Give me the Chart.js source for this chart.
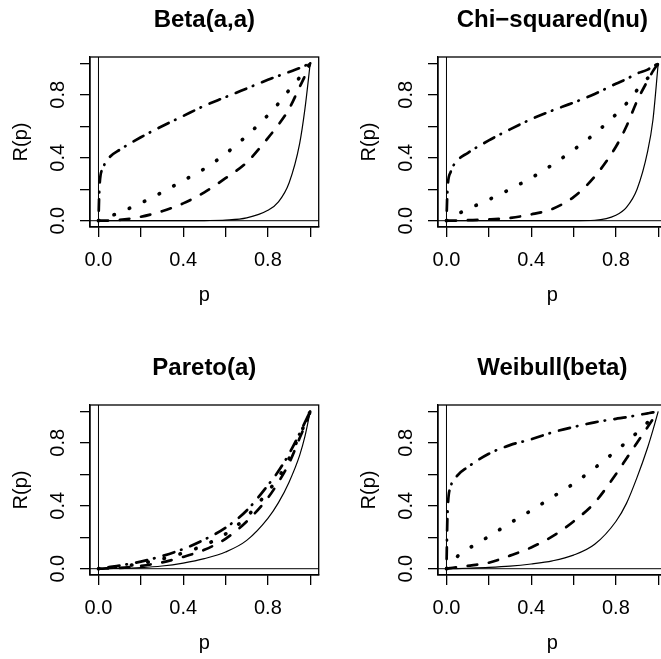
<!DOCTYPE html>
<html>
<head>
<meta charset="utf-8">
<script src="https://cdn.jsdelivr.net/npm/chart.js@4/dist/chart.umd.min.js"></script>
<style>
    html, body { margin: 0; padding: 0; background: #fff; overflow: hidden; width: 661px; height: 659px; }
    canvas { position: absolute; }
</style>
</head>
<body>
<canvas id="beta" width="330" height="330" style="left:0;top:0"></canvas>
<canvas id="chisq" width="330" height="330" style="left:348px;top:0"></canvas>
<canvas id="pareto" width="330" height="330" style="left:0;top:348px"></canvas>
<canvas id="weibull" width="330" height="330" style="left:348px;top:348px"></canvas>
<script>
// p values shared by every curve
const pGrid = [0, 0.005, 0.02, 0.05, 0.1, 0.2, 0.3, 0.4, 0.5, 0.6, 0.7, 0.8, 0.85, 0.9, 0.95, 0.975, 1];

const tickValues = [0, 0.2, 0.4, 0.6, 0.8, 1];
const tickLabels = ['0.0', '', '0.4', '', '0.8', ''];

// R(p) for the four parameter choices: solid, dashed, dotted, dot-dash
const betaSolid = [0, 0, 0, 0, 0, 0, 0, 0, 0.001, 0.004, 0.018, 0.066, 0.12, 0.24, 0.49, 0.71, 1];
const betaDashed = [0, 0, 0, 0.001, 0.005, 0.025, 0.06, 0.11, 0.18, 0.27, 0.37, 0.525, 0.61, 0.71, 0.85, 0.92, 1];
const betaDotted = [0, 0.002, 0.01, 0.026, 0.052, 0.112, 0.18, 0.255, 0.33, 0.425, 0.54, 0.67, 0.745, 0.83, 0.91, 0.955, 1];
const betaDotDash = [0, 0.22, 0.33, 0.4, 0.45, 0.53, 0.6, 0.665, 0.73, 0.785, 0.84, 0.895, 0.92, 0.945, 0.97, 0.985, 1];

const chisqSolid = [0, 0, 0, 0, 0, 0, 0, 0, 0, 0, 0.003, 0.035, 0.085, 0.2, 0.44, 0.64, 1];
const chisqDashed = [0, 0, 0, 0.001, 0.003, 0.008, 0.018, 0.04, 0.075, 0.15, 0.28, 0.47, 0.6, 0.76, 0.89, 0.95, 1];
const chisqDotted = [0, 0.003, 0.015, 0.04, 0.073, 0.134, 0.2, 0.272, 0.355, 0.45, 0.553, 0.675, 0.745, 0.83, 0.905, 0.95, 1];
const chisqDotDash = [0, 0.2, 0.31, 0.38, 0.43, 0.51, 0.58, 0.645, 0.7, 0.75, 0.805, 0.87, 0.9, 0.935, 0.96, 0.98, 1];

const paretoSolid = [0, 0, 0, 0.001, 0.002, 0.007, 0.017, 0.036, 0.064, 0.106, 0.18, 0.32, 0.42, 0.55, 0.72, 0.84, 1];
const paretoDashed = [0, 0, 0.001, 0.002, 0.005, 0.018, 0.04, 0.075, 0.12, 0.19, 0.3, 0.45, 0.55, 0.67, 0.83, 0.91, 1];
const paretoDotted = [0, 0.001, 0.003, 0.007, 0.013, 0.033, 0.062, 0.1, 0.15, 0.22, 0.33, 0.49, 0.58, 0.7, 0.85, 0.92, 1];
const paretoDotDash = [0, 0.001, 0.004, 0.01, 0.02, 0.045, 0.08, 0.125, 0.185, 0.26, 0.37, 0.53, 0.62, 0.73, 0.86, 0.93, 1];

const weibullSolid = [0, 0, 0, 0.001, 0.003, 0.008, 0.016, 0.03, 0.05, 0.086, 0.155, 0.3, 0.415, 0.58, 0.77, 0.88, 1];
const weibullDashed = [0, 0.001, 0.004, 0.01, 0.018, 0.038, 0.083, 0.135, 0.205, 0.3, 0.42, 0.6, 0.7, 0.8, 0.9, 0.95, 1];
const weibullDotted = [0, 0.01, 0.033, 0.076, 0.124, 0.205, 0.29, 0.37, 0.455, 0.54, 0.64, 0.748, 0.805, 0.865, 0.93, 0.965, 1];
const weibullDotDash = [0, 0.35, 0.52, 0.59, 0.645, 0.73, 0.785, 0.822, 0.866, 0.9, 0.93, 0.952, 0.962, 0.975, 0.987, 0.993, 1];

// lty 1..4
const lineStyles = [
    {borderWidth: 1.2, borderDash: [], borderCapStyle: 'butt'},
    {borderWidth: 2.7, borderDash: [9.6, 11.8], borderCapStyle: 'round'},
    {borderWidth: 3.6, borderDash: [0.5, 16.1], borderCapStyle: 'round'},
    {borderWidth: 2.7, borderDash: [0.5, 9.4, 11.3, 7.1], borderCapStyle: 'round'}
];

Chart.defaults.font.family = "'Liberation Sans', Arial, Helvetica, sans-serif";
Chart.defaults.color = '#000';

// plot box plus the reference lines at x = 0 and y = 0
const framePlugin = {
    id: 'frame',
    beforeDatasetsDraw(chart) {
        const {ctx, chartArea, scales} = chart;
        const x0 = scales.x.getPixelForValue(0);
        const y0 = scales.y.getPixelForValue(0);
        ctx.save();
        ctx.strokeStyle = '#000';
        ctx.lineWidth = 1;
        ctx.beginPath();
        ctx.moveTo(x0, chartArea.top);
        ctx.lineTo(x0, chartArea.bottom);
        ctx.moveTo(chartArea.left, y0);
        ctx.lineTo(chartArea.right, y0);
        ctx.stroke();
        ctx.restore();
    },
    afterDraw(chart) {
        const {ctx, chartArea} = chart;
        ctx.save();
        ctx.strokeStyle = '#000';
        ctx.lineWidth = 1.3;
        ctx.strokeRect(chartArea.left, chartArea.top, chartArea.right - chartArea.left, chartArea.bottom - chartArea.top);
        ctx.restore();
    }
};

function axisOptions(isX, label) {
    return {
        type: 'linear',
        position: isX ? 'bottom' : 'left',
        min: -0.04,
        max: 1.04,
        afterBuildTicks: axis => {
            axis.ticks = tickValues.map(v => ({value: v}));
        },
        afterFit: axis => {
            if (isX) {
                axis.height = 103;
            } else {
                axis.width = 90;
            }
        },
        ticks: {
            autoSkip: false,
            font: {size: 20},
            padding: isX ? 11 : 8,
            minRotation: isX ? 0 : 90,
            maxRotation: isX ? 0 : 90,
            crossAlign: isX ? 'near' : 'center',
            callback: (value, index) => tickLabels[index]
        },
        grid: {
            display: true,
            drawOnChartArea: false,
            drawTicks: true,
            tickLength: 10,
            color: '#000',
            lineWidth: 1.3
        },
        border: {display: true, color: '#000', width: 1.3},
        title: {
            display: true,
            text: label,
            font: {size: 20},
            padding: isX ? {top: 0, bottom: 23} : {top: 9.5, bottom: 0}
        }
    };
}

function makePanel(canvasId, title, series) {
    const ctx = document.getElementById(canvasId);
    return new Chart(ctx, {
        type: 'line',
        data: {
            datasets: series.map((values, i) => ({
                data: pGrid.map((p, j) => ({x: p, y: values[j]})),
                borderColor: '#000',
                borderWidth: lineStyles[i].borderWidth,
                borderDash: lineStyles[i].borderDash,
                borderCapStyle: lineStyles[i].borderCapStyle,
                borderJoinStyle: 'round',
                cubicInterpolationMode: 'monotone',
                pointRadius: 0,
                fill: false
            }))
        },
        options: {
            responsive: false,
            animation: false,
            devicePixelRatio: 1,
            layout: {padding: {left: 0, top: 0, right: 11.3, bottom: 0}},
            plugins: {
                legend: {display: false},
                tooltip: {enabled: false},
                title: {
                    display: true,
                    text: title,
                    fullSize: false,
                    font: {size: 24, weight: 'bold'},
                    color: '#000',
                    padding: {top: 5.6, bottom: 22.6}
                }
            },
            scales: {
                x: axisOptions(true, 'p'),
                y: axisOptions(false, 'R(p)')
            }
        },
        plugins: [framePlugin]
    });
}

makePanel('beta', 'Beta(a,a)', [betaSolid, betaDashed, betaDotted, betaDotDash]);
makePanel('chisq', 'Chi\u2212squared(nu)', [chisqSolid, chisqDashed, chisqDotted, chisqDotDash]);
makePanel('pareto', 'Pareto(a)', [paretoSolid, paretoDashed, paretoDotted, paretoDotDash]);
makePanel('weibull', 'Weibull(beta)', [weibullSolid, weibullDashed, weibullDotted, weibullDotDash]);
</script>
</body>
</html>
